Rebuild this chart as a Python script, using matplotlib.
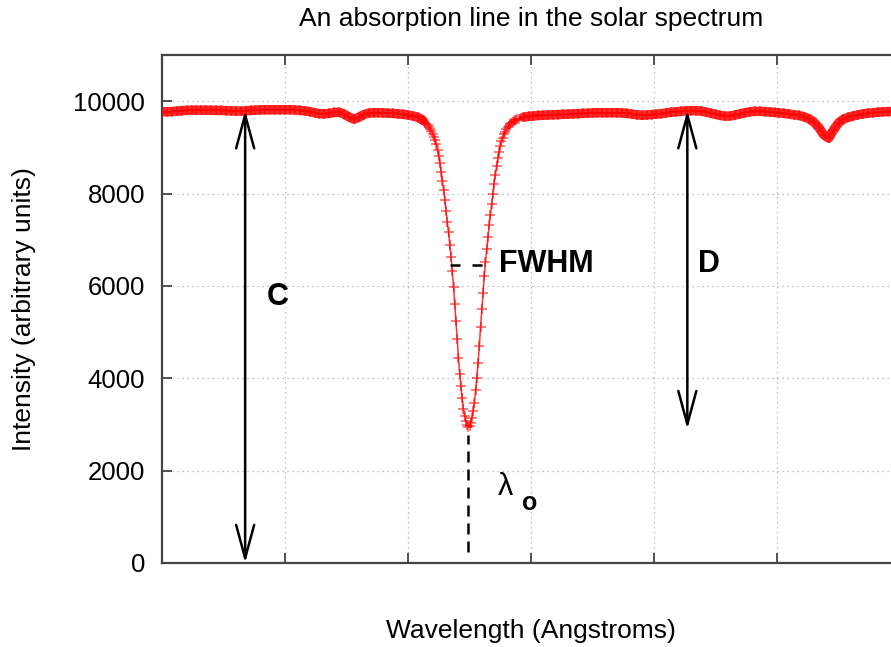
import numpy as np
import matplotlib
matplotlib.use("Agg")
import matplotlib.pyplot as plt
from matplotlib.patches import FancyArrowPatch

plt.rcParams['font.family'] = ['Liberation Sans', 'DejaVu Sans']

# ---------------- data (wavelength in grid units, intensity arbitrary) ----------------
# left continuum: wavelength 0.00 .. 2.12, step 0.04
left_start, left_step = 0.00, 0.04
left_vals = [9770, 9770, 9775, 9785, 9795, 9800, 9805, 9805, 9805, 9805,
             9805, 9800, 9800, 9795, 9790, 9785, 9785, 9790, 9800, 9805,
             9810, 9815, 9815, 9815, 9815, 9815, 9815, 9810, 9800, 9790,
             9775, 9750, 9730, 9725, 9735, 9755, 9760, 9720, 9660, 9610,
             9650, 9710, 9740, 9750, 9750, 9745, 9740, 9735, 9725, 9715,
             9700, 9680, 9650, 9590]
# line core: wavelength 2.13 .. 2.90, step 0.01
core_start, core_step = 2.13, 0.01
core_vals = [9555, 9535, 9510, 9480, 9445, 9405, 9360, 9300, 9235, 9160,
             9070, 8940, 8805, 8655, 8470, 8280, 8075, 7860, 7620, 7390,
             7160, 6890, 6620, 6315, 5980, 5610, 5245, 4860, 4440, 4100,
             3830, 3570, 3345, 3190, 3065, 2985, 2950, 2965, 3025, 3145,
             3290, 3460, 3745, 4010, 4325, 4695, 5120, 5490, 5840, 6205,
             6520, 6800, 7060, 7315, 7540, 7770, 8000, 8215, 8410, 8590,
             8760, 8895, 9020, 9130, 9210, 9280, 9340, 9390, 9435, 9470,
             9500, 9530, 9550, 9570, 9585, 9595, 9610, 9620]
# right continuum: wavelength 2.94 .. 6.02, step 0.04
right_start, right_step = 2.94, 0.04
right_vals = [9655, 9670, 9680, 9690, 9695, 9700, 9705, 9710, 9715, 9720,
              9725, 9730, 9735, 9740, 9745, 9750, 9750, 9750, 9750, 9750,
              9745, 9735, 9720, 9705, 9695, 9700, 9710, 9720, 9730, 9745,
              9760, 9770, 9780, 9790, 9795, 9795, 9785, 9765, 9740, 9715,
              9690, 9675, 9680, 9700, 9725, 9750, 9770, 9780, 9780, 9775,
              9765, 9755, 9745, 9735, 9720, 9705, 9690, 9660, 9620, 9545,
              9430, 9270, 9200, 9380, 9530, 9610, 9650, 9680, 9705, 9725,
              9740, 9750, 9760, 9770, 9775, 9780, 9780, 9780]

def grid_x(start, step, n):
    return start + step * np.arange(n)

wl_left = grid_x(left_start, left_step, len(left_vals))
wl_core = grid_x(core_start, core_step, len(core_vals))
wl_right = grid_x(right_start, right_step, len(right_vals))
wl = np.concatenate([wl_left, wl_core, wl_right])
inten = np.array(left_vals + core_vals + right_vals, dtype=float)

y_ticks = [0, 2000, 4000, 6000, 8000, 10000]
x_grid = [1, 2, 3, 4, 5]

# annotation values
continuum_level = 9805
line_center = 2.49
line_min = 2950
fwhm_level = 6445
fwhm_left, fwhm_right = 2.345, 2.606
c_arrow_x = 0.676
d_arrow_x = 4.271
d_arrow_bottom = 2900

# ---------------- figure ----------------
fig = plt.figure(figsize=(8.91, 6.47), dpi=100)
ax = fig.add_axes([162/891, 1 - 563/647, (900 - 162)/891, (563 - 55)/647])

red = '#ff0000'
# continuum band (dense overlapping points in the original)
for xs, ys in [(wl_left, left_vals), (wl_right, right_vals)]:
    ax.plot(xs, ys, color=red, linewidth=6.8, alpha=0.85,
            solid_capstyle='round', zorder=2)
# connecting spine of the points
ax.plot(wl, inten, color=red, linewidth=1.1, alpha=0.8, zorder=3)
# the '+' points
ax.plot(wl, inten, linestyle='none', marker='+', ms=7, mew=1.2,
        color=red, alpha=0.6, zorder=3)

ax.set_xlim(0, 6)
ax.set_ylim(0, 11000)
ax.set_yticks(y_ticks)
ax.set_yticklabels([str(v) for v in y_ticks], fontsize=18.5)
ax.set_xticks(x_grid)
ax.set_xticklabels([])
ax.tick_params(direction='in', length=7, width=1.3, color='#444444',
               top=True, right=False, pad=12)
ax.grid(True, linestyle=(0, (1, 3)), color='#aaaaaa', linewidth=0.9)
ax.set_axisbelow(True)
for side in ['left', 'bottom', 'top']:
    ax.spines[side].set_color('#444444')
    ax.spines[side].set_linewidth(1.6)
ax.spines['right'].set_visible(False)

ax.set_title('An absorption line in the solar spectrum', fontsize=19, pad=21)
ax.set_xlabel('Wavelength (Angstroms)', fontsize=19)
ax.xaxis.set_label_coords(0.5, -0.11)
ax.set_ylabel('Intensity (arbitrary units)', fontsize=19)
ax.yaxis.set_label_coords(-0.171, 0.5)

def darrow(x, y0, y1):
    a = FancyArrowPatch((x, y0), (x, y1),
                        arrowstyle='<->,head_length=24,head_width=6.5',
                        mutation_scale=1, color='black', linewidth=1.8,
                        shrinkA=0, shrinkB=0, zorder=5, clip_on=False)
    ax.add_patch(a)

darrow(c_arrow_x, 0, continuum_level)
darrow(d_arrow_x, d_arrow_bottom, continuum_level)

ax.plot([fwhm_left, fwhm_right], [fwhm_level, fwhm_level], color='black',
        linewidth=1.8, dashes=(4.0, 4.8), zorder=5)
ax.plot([line_center, line_center], [230, 2780], color='black',
        linewidth=1.8, dashes=(4.4, 2.8), zorder=5)

ax.text(0.85, 5766, 'C', fontsize=22, fontweight='bold', va='center', ha='left')
ax.text(4.357, 6482, 'D', fontsize=22, fontweight='bold', va='center', ha='left')
ax.text(2.736, 6482, 'FWHM', fontsize=22, fontweight='bold', va='center', ha='left')
ax.text(2.728, 1650, 'λ', fontsize=22, va='center', ha='left')
ax.text(2.93, 1300, 'o', fontsize=18, fontweight='bold', va='center', ha='left')

fig.savefig('out.png', dpi=100)
